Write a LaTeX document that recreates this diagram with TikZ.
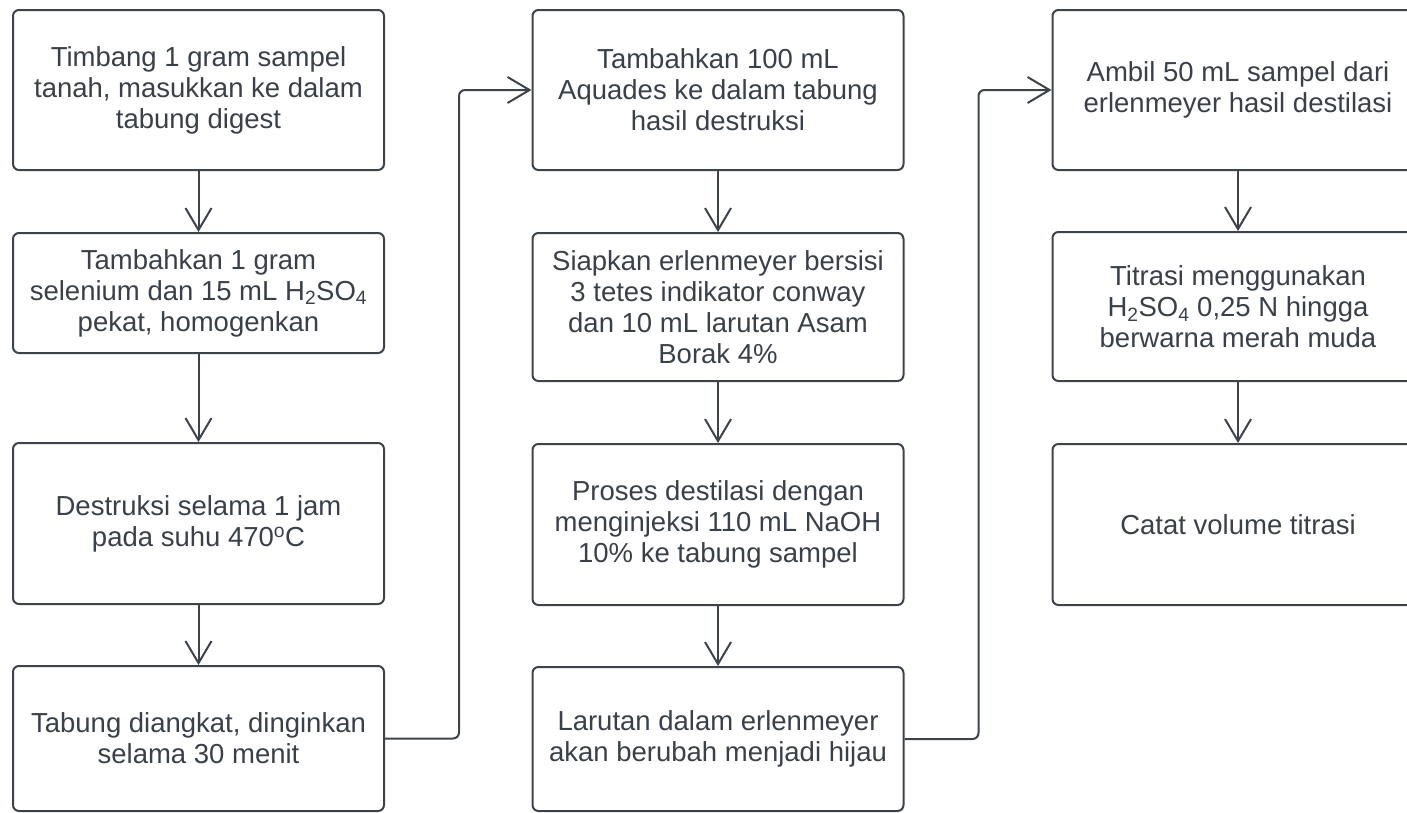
\documentclass[tikz,border=0pt]{standalone}
\usepackage{fontspec}
\setmainfont{Liberation Sans}
\usetikzlibrary{arrows.meta}
\definecolor{linegray}{HTML}{3D434B}
\definecolor{textgray}{HTML}{3A4049}
\tikzset{
every node/.style={rectangle, draw=linegray, line width=2pt, rounded corners=6pt, minimum width=371pt, inner sep=0pt, align=center, text=textgray, font=\fontsize{27.5}{31}\selectfont},
flow/.style={draw=linegray, line width=2pt, -{Straight Barb[length=22pt,width=26pt]}}
}
\begin{document}
\begin{tikzpicture}[x=1pt,y=-1pt]
\useasboundingbox (0,0) rectangle (1407,812);
\clip (0,0) rectangle (1407,812);

\node[minimum height=160pt] (1)  at (198.5,90)    {Timbang 1 gram sampel\\tanah, masukkan ke dalam\\tabung digest};
\node[minimum height=120pt] (2)  at (198.5,293)   {Tambahkan 1 gram\\selenium dan 15 mL H\textsubscript{2}SO\textsubscript{4}\\pekat, homogenkan};
\node[minimum height=161pt] (3)  at (198.5,523.5) {Destruksi selama 1 jam\\pada suhu 470\textsuperscript{o}C};
\node[minimum height=145pt] (4)  at (198.5,738.5) {Tabung diangkat, dinginkan\\selama 30 menit};

\node[minimum height=160pt] (5)  at (718,90)      {Tambahkan 100 mL\\Aquades ke dalam tabung\\hasil destruksi};
\node[minimum height=148pt] (6)  at (718,307)     {Siapkan erlenmeyer bersisi\\3 tetes indikator conway\\dan 10 mL larutan Asam\\Borak 4\%};
\node[minimum height=161pt] (7)  at (718,524.5)   {Proses destilasi dengan\\menginjeksi 110 mL NaOH\\10\% ke tabung sampel};
\node[minimum height=144pt] (8)  at (718,739)     {Larutan dalam erlenmeyer\\akan berubah menjadi hijau};

\node[minimum height=160pt] (9)  at (1238,90)     {Ambil 50 mL sampel dari\\erlenmeyer hasil destilasi};
\node[minimum height=149pt] (10) at (1238,306.5)  {Titrasi menggunakan\\H\textsubscript{2}SO\textsubscript{4} 0,25 N hingga\\berwarna merah muda};
\node[minimum height=161pt] (11) at (1238,524.5)  {Catat volume titrasi};

\draw[flow] (1) -- (2);
\draw[flow] (2) -- (3);
\draw[flow] (3) -- (4);
\draw[flow, rounded corners=6pt] (4.east) -- ++(74,0) |- (5.west);
\draw[flow] (5) -- (6);
\draw[flow] (6) -- (7);
\draw[flow] (7) -- (8);
\draw[flow, rounded corners=6pt] (8.east) -- ++(74,0) |- (9.west);
\draw[flow] (9) -- (10);
\draw[flow] (10) -- (11);

\end{tikzpicture}
\end{document}
